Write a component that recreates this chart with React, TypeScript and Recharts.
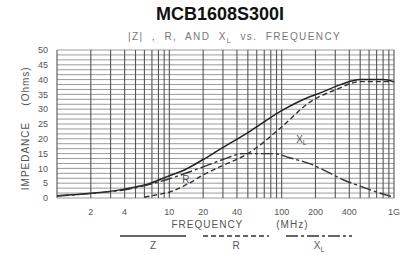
import React from 'react';
import { ComposedChart, Line, XAxis, YAxis, ReferenceLine, ReferenceDot, Label } from 'recharts';

const chartTitle = 'MCB1608S300I';
const freqTicks = [2, 4, 10, 20, 40, 100, 200, 400, 1000];
const freqTickLabels = ['2', '4', '10', '20', '40', '100', '200', '400', '1G'];
const impTicks = [0, 5, 10, 15, 20, 25, 30, 35, 40, 45, 50];
const gridFreqs = [1, 2, 3, 4, 5, 6, 7, 8, 9, 10, 20, 30, 40, 50, 60, 70, 80, 90, 100, 200, 300, 400, 500, 600, 700, 800, 900, 1000];
const gridImps = Array.from({ length: 31 }, (_, i) => (i * 50) / 30);

const zFreq = [1, 2, 4, 6.8, 10, 13.3, 20, 27, 53, 100, 180, 220, 335, 500, 800, 1000];
const zImp = [0.8, 1.6, 3.0, 5.0, 7.5, 9.3, 13.0, 16.0, 22.7, 29.5, 34.3, 35.5, 38.3, 40.0, 40.0, 39.3];

const rFreq = [6, 8, 10, 15, 20, 30, 50, 100, 180, 300, 500, 1000];
const rImp = [0.3, 1.2, 2.0, 5.0, 7.8, 11.0, 15.0, 24.0, 32.5, 36.5, 39.3, 39.3];

const xFreq = [1, 2, 4, 7, 10, 20, 30, 45, 85, 120, 180, 250, 360, 500, 700, 1000];
const xImp = [0.7, 1.5, 2.8, 4.8, 6.5, 10.5, 13.0, 15.0, 15.0, 13.5, 11.5, 9.0, 6.0, 4.0, 2.0, 0.3];

const zData = zFreq.map((f, i) => ({ f, v: zImp[i] }));
const rData = rFreq.map((f, i) => ({ f, v: rImp[i] }));
const xData = xFreq.map((f, i) => ({ f, v: xImp[i] }));

const FONT = '"Liberation Sans", Arial, sans-serif';
const TXT = '#555';

const legendItems = [
  { name: 'Z', dash: undefined as string | undefined, sub: '' },
  { name: 'R', dash: '5 3', sub: '' },
  { name: 'X', dash: '12 3 3 3', sub: 'L' },
];

const LegendBlock = () => (
  <div style={{ position: 'absolute', left: 120, top: 234, display: 'flex', gap: 17, fontFamily: FONT }}>
    {legendItems.map((it) => (
      <div key={it.name} style={{ width: 66, display: 'flex', flexDirection: 'column', alignItems: 'center' }}>
        <svg width={66} height={4} style={{ display: 'block' }}>
          <line x1={0} x2={66} y1={2} y2={2} stroke="#333" strokeWidth={1.3} strokeDasharray={it.dash} />
        </svg>
        <div style={{ fontSize: 10, color: TXT, lineHeight: '10px', marginTop: 3 }}>
          {it.name}
          {it.sub ? <sub style={{ fontSize: 7 }}>{it.sub}</sub> : null}
        </div>
      </div>
    ))}
  </div>
);

const XLLabel = (props: any) => {
  const vb = props.viewBox || {};
  return (
    <text x={vb.x} y={vb.y} fontSize={10} fill={TXT} fontFamily={FONT} textAnchor="middle">
      X<tspan fontSize={7} dy={2}>L</tspan>
    </text>
  );
};
const RLabel = (props: any) => {
  const vb = props.viewBox || {};
  return (
    <text x={vb.x} y={vb.y} fontSize={10} fill={TXT} fontFamily={FONT} textAnchor="middle">
      R
    </text>
  );
};

const YLabel = () => (
  <g fontFamily={FONT} fontSize={10} fill={TXT} letterSpacing={1}>
    <text transform="translate(29,156) rotate(-90)" textAnchor="middle">IMPEDANCE</text>
    <text transform="translate(29,86) rotate(-90)" textAnchor="middle">(Ohms)</text>
  </g>
);

const FreqLabel = () => (
  <text x={240} y={228} fontSize={10} fill={TXT} fontFamily={FONT} textAnchor="middle" letterSpacing={1} style={{ whiteSpace: 'pre' }}>
    FREQUENCY{'\u2003\u2003\u2003'}(MHz)
  </text>
);

export default function App() {
  return (
    <div style={{ position: 'absolute', left: 0, top: 0, width: 403, height: 255, background: '#fff', fontFamily: FONT }}>
      <div style={{ position: 'absolute', top: 4, left: 0, width: 440, textAlign: 'center', fontWeight: 'bold', fontSize: 18, color: '#111' }}>
        {chartTitle}
      </div>
      <div style={{ position: 'absolute', top: 31, left: 128, width: 260, fontSize: 10, color: '#777', letterSpacing: 1.4, whiteSpace: 'pre' }}>
        {'|Z|  ,  R,  AND  X'}<sub style={{ fontSize: 7 }}>L</sub>{'  vs.  FREQUENCY'}
      </div>
      <ComposedChart width={403} height={255} margin={{ top: 50, right: 9, left: 0, bottom: 0 }}>
        <XAxis
          dataKey="f"
          type="number"
          scale="log"
          domain={[1, 1000]}
          ticks={freqTicks}
          interval={0}
          allowDataOverflow
          tickFormatter={(v: number) => freqTickLabels[freqTicks.indexOf(v)] ?? String(v)}
          tickLine={false}
          axisLine={false}
          height={57}
          tickMargin={5}
          tick={{ fontSize: 9, fill: TXT, fontFamily: FONT }}
        >
          <Label content={() => <FreqLabel />} />
        </XAxis>
        <YAxis
          type="number"
          domain={[0, 50]}
          ticks={impTicks}
          interval={0}
          width={57}
          tickLine={false}
          axisLine={false}
          tickMargin={3}
          tick={{ fontSize: 9, fill: TXT, fontFamily: FONT }}
        >
          <Label content={() => <YLabel />} />
        </YAxis>
        {gridImps.map((v) => (
          <ReferenceLine key={'h' + v} y={v} stroke="#9a9a9a" strokeWidth={1} ifOverflow="visible" />
        ))}
        {gridFreqs.map((f) => (
          <ReferenceLine key={'v' + f} x={f} stroke="#555" strokeWidth={1.1} ifOverflow="visible" />
        ))}
        <Line data={zData} dataKey="v" type="monotone" stroke="#222" strokeWidth={1.5} dot={false} isAnimationActive={false} name="Z" />
        <Line data={rData} dataKey="v" type="monotone" stroke="#333" strokeWidth={1.4} strokeDasharray="5 3" dot={false} isAnimationActive={false} name="R" />
        <Line data={xData} dataKey="v" type="monotone" stroke="#333" strokeWidth={1.4} strokeDasharray="12 3 3 3" dot={false} isAnimationActive={false} name="XL" />
        <ReferenceDot x={14} y={5.2} r={0} fill="none" stroke="none" label={<RLabel />} />
        <ReferenceDot x={150} y={18.5} r={0} fill="none" stroke="none" label={<XLLabel />} />
      </ComposedChart>
      <LegendBlock />
    </div>
  );
}
